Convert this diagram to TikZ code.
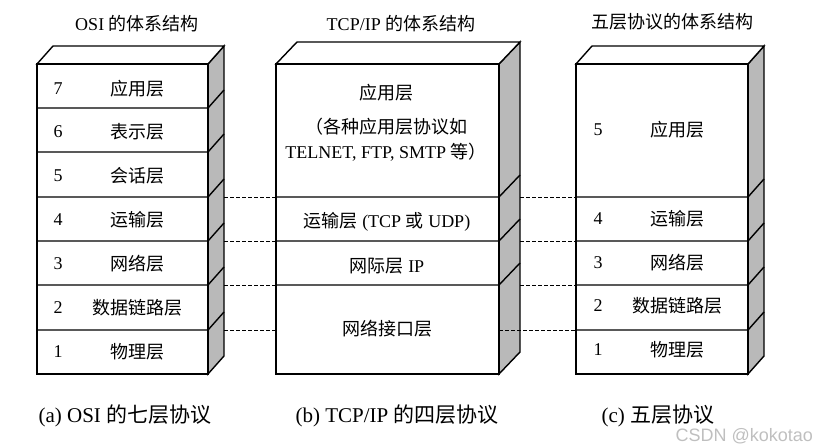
\documentclass[tikz,border=0pt]{standalone}
\usepackage{fontspec}
\setmainfont{Liberation Serif}
\newfontfamily\cjk{Noto Sans CJK SC}
\newfontfamily\wmfont{Liberation Sans}
\usepackage{tikz}

\begin{document}
\begin{tikzpicture}[x=1pt,y=-1pt,font=\fontsize{18}{25}\selectfont,
  face/.style={draw,line width=1.4pt,fill=white},
  sideface/.style={draw,line width=1.4pt,fill=gray!55},
  layerline/.style={line width=1.4pt},
  link/.style={line width=0.7pt,dash pattern=on 3.5pt off 2.5pt},
  caption/.style={anchor=west,font=\fontsize{21}{24}\selectfont}]
\useasboundingbox (0,0) rectangle (829,446);

\node (osititle) at (137,24) {OSI {\cjk 的体系结构}};
\draw[sideface] (208,64) -- (224,46) -- (224,356) -- (208,374) -- cycle;
\draw[face] (37,64) -- (53,46) -- (224,46) -- (208,64) -- cycle;
\draw[face] (37,64) rectangle (208,374);
\foreach \y in {108,152,197,241,285,330}
  \draw[layerline] (37,\y) -- (208,\y) -- (224,\y-18);
\foreach \n/\name/\y in {7/应用层/89,6/表示层/132,5/会话层/176,4/运输层/220,3/网络层/264,2/数据链路层/308,1/物理层/352} {
  \node (osinum\n) at (58,\y) {\n};
  \node (osi\n) at (137,\y) {\cjk \name};
}
\foreach \y/\k in {197/a,241/b,285/c,330/d}
  \coordinate (osi-\k) at (224,\y);

\node (tcptitle) at (401,24) {TCP/IP {\cjk 的体系结构}};
\draw[sideface] (499,64) -- (520,42) -- (520,352) -- (499,374) -- cycle;
\draw[face] (276,64) -- (297,42) -- (520,42) -- (499,64) -- cycle;
\draw[face] (276,64) rectangle (499,374);
\foreach \y in {197,241,285}
  \draw[layerline] (276,\y) -- (499,\y) -- (520,\y-22);
\node (tcpapp) at (386,93) {\cjk 应用层};
\node[align=center] (tcpappnote) at (386,140) {{\cjk （各种应用层协议如}\\TELNET, FTP, SMTP {\cjk 等）}};
\node (tcptrans) at (387,222) {{\cjk 运输层} (TCP {\cjk 或} UDP)};
\node (tcpip) at (387,266) {{\cjk 网际层} IP};
\node (tcpnet) at (387,329) {\cjk 网络接口层};
\foreach \y/\k in {197/a,241/b,285/c,330/d}
  \coordinate (tcpl-\k) at (276,\y);
\foreach \y/\k in {197/a,241/b,285/c}
  \coordinate (tcpr-\k) at (520,\y);
\coordinate (tcpr-d) at (499,330);

\node (fivetitle) at (672,22) {\cjk 五层协议的体系结构};
\draw[sideface] (748,64) -- (764,46) -- (764,356) -- (748,374) -- cycle;
\draw[face] (576,64) -- (592,46) -- (764,46) -- (748,64) -- cycle;
\draw[face] (576,64) rectangle (748,374);
\foreach \y in {197,241,285,330}
  \draw[layerline] (576,\y) -- (748,\y) -- (764,\y-18);
\foreach \n/\name/\y in {5/应用层/130,4/运输层/219,3/网络层/263,2/数据链路层/306,1/物理层/350} {
  \node (fivenum\n) at (598,\y) {\n};
  \node (five\n) at (677,\y) {\cjk \name};
}
\foreach \y/\k in {197/a,241/b,285/c,330/d}
  \coordinate (five-\k) at (576,\y);

\foreach \k in {a,b,c,d} {
  \draw[link] (osi-\k) -- (tcpl-\k);
  \draw[link] (tcpr-\k) -- (five-\k);
}

\node[caption] (capa) at (35,416) {(a) OSI {\cjk 的七层协议}};
\node[caption] (capb) at (292,416) {(b) TCP/IP {\cjk 的四层协议}};
\node[caption] (capc) at (598,416) {(c) {\cjk 五层协议}};
\node[anchor=west,text=gray!50,font=\wmfont\fontsize{18}{20}\selectfont] (watermark) at (672,436) {CSDN @kokotao};
\end{tikzpicture}
\end{document}
